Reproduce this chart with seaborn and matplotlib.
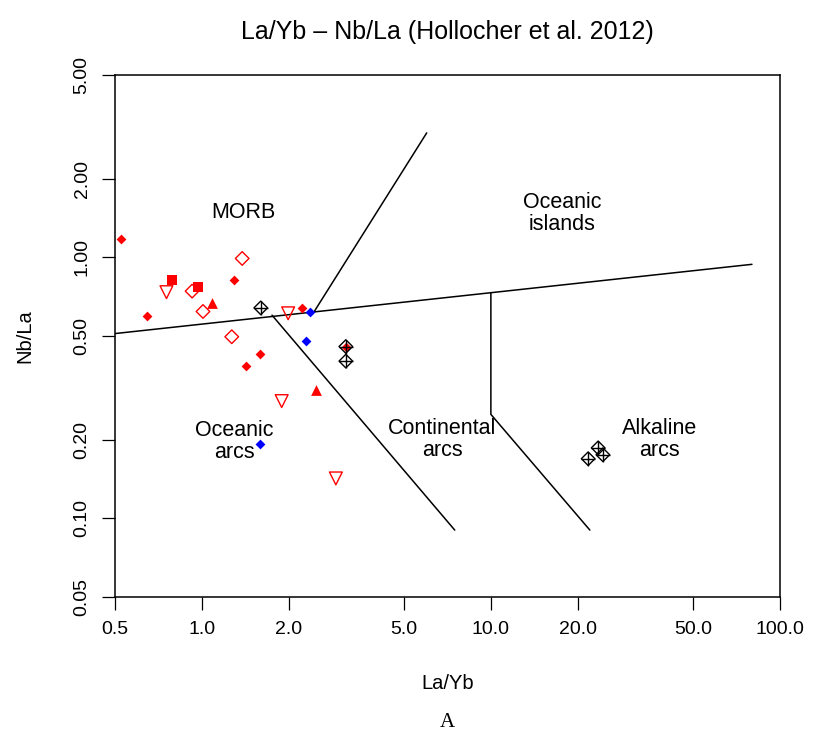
import matplotlib
matplotlib.use("Agg")
import matplotlib.pyplot as plt
from matplotlib.ticker import NullLocator
import pandas as pd
import seaborn as sns

# Sample data (La/Yb, Nb/La)
red_diamond_x = [0.524, 0.649, 1.29, 2.22, 1.59, 1.42, 3.15]
red_diamond_y = [1.18, 0.594, 0.82, 0.637, 0.426, 0.382, 0.455]
red_square_x = [0.787, 0.974]
red_square_y = [0.82, 0.768]
red_triangle_x = [1.085, 2.49]
red_triangle_y = [0.669, 0.309]
red_open_tri_x = [0.755, 1.99, 1.89, 2.91]
red_open_tri_y = [0.735, 0.61, 0.281, 0.142]
red_open_diamond_x = [0.926, 1.01, 1.38, 1.27]
red_open_diamond_y = [0.742, 0.62, 0.99, 0.496]
blue_diamond_x = [2.36, 2.30, 1.59]
blue_diamond_y = [0.615, 0.479, 0.1925]
black_x = [1.6, 3.15, 3.15, 21.7, 23.5, 24.4]
black_y = [0.64, 0.455, 0.40, 0.169, 0.186, 0.175]

# Field boundaries (Hollocher et al. 2012)
boundaries = [
    ([0.5, 80.0], [0.51, 0.94]),
    ([2.45, 6.0], [0.62, 3.0]),
    ([1.75, 7.5], [0.6, 0.09]),
    ([10.0, 10.0, 22.0], [0.73, 0.25, 0.09]),
]

# Field labels
field_labels = ["MORB", "Oceanic\nislands", "Oceanic\narcs", "Continental\narcs", "Alkaline\narcs"]
field_x = [1.39, 17.6, 1.30, 6.78, 38.2]
field_y = [1.49, 1.47, 0.197, 0.2, 0.2]

x_ticks = [0.5, 1, 2, 5, 10, 20, 50, 100]
x_ticklabels = ["0.5", "1.0", "2.0", "5.0", "10.0", "20.0", "50.0", "100.0"]
y_ticks = [0.05, 0.1, 0.2, 0.5, 1, 2, 5]
y_ticklabels = ["0.05", "0.10", "0.20", "0.50", "1.00", "2.00", "5.00"]

sns.set_style("ticks")
plt.rcParams["font.family"] = ["Liberation Sans", "DejaVu Sans"]
plt.rcParams["text.color"] = "black"
plt.rcParams["axes.labelcolor"] = "black"
plt.rcParams["xtick.color"] = "black"
plt.rcParams["ytick.color"] = "black"

fig = plt.figure(figsize=(8.13, 7.36), dpi=100)
ax = fig.add_axes([0.1411, 0.1893, 0.8183, 0.7088])
ax.set_xscale("log")
ax.set_yscale("log")

for bx, by in boundaries:
    ax.plot(bx, by, color="black", lw=1.1, zorder=1)

for lab, lx, ly in zip(field_labels, field_x, field_y):
    ax.text(lx, ly, lab, ha="center", va="center", fontsize=15.5, linespacing=1.1, color="black")

sns.scatterplot(x=red_diamond_x, y=red_diamond_y, marker="D", s=25, color="red",
                edgecolor="red", linewidth=0, ax=ax, zorder=3)
sns.scatterplot(x=red_square_x, y=red_square_y, marker="s", s=48, color="red",
                edgecolor="red", linewidth=0, ax=ax, zorder=3)
sns.scatterplot(x=red_triangle_x, y=red_triangle_y, marker="^", s=60, color="red",
                edgecolor="red", linewidth=0, ax=ax, zorder=3)
sns.scatterplot(x=red_open_tri_x, y=red_open_tri_y, marker="v", s=85, facecolor="none",
                edgecolor="red", linewidth=1.0, ax=ax, zorder=3)
sns.scatterplot(x=red_open_diamond_x, y=red_open_diamond_y, marker="D", s=48, facecolor="none",
                edgecolor="red", linewidth=1.0, ax=ax, zorder=3)
sns.scatterplot(x=blue_diamond_x, y=blue_diamond_y, marker="D", s=25, color="blue",
                edgecolor="blue", linewidth=0, ax=ax, zorder=3)
sns.scatterplot(x=black_x, y=black_y, marker="D", s=48, facecolor="none",
                edgecolor="black", linewidth=1.0, ax=ax, zorder=4)
ax.scatter(black_x, black_y, marker="+", s=90, color="black", linewidth=1.0, zorder=4)

ax.set_xlim(0.5, 100)
ax.set_ylim(0.05, 5)
ax.set_xticks(x_ticks)
ax.set_xticklabels(x_ticklabels)
ax.set_yticks(y_ticks)
ax.set_yticklabels(y_ticklabels, rotation=90, va="center")
ax.xaxis.set_minor_locator(NullLocator())
ax.yaxis.set_minor_locator(NullLocator())
ax.tick_params(length=9.4, width=0.9, color="black", labelcolor="black", labelsize=14, pad=8)

for sp in ax.spines.values():
    sp.set_visible(True)
    sp.set_linewidth(1.1)
    sp.set_color("black")

ax.set_xlabel("La/Yb", fontsize=14.5)
ax.set_ylabel("Nb/La", fontsize=14.5)
ax.xaxis.set_label_coords(0.5, -0.167)
ax.xaxis.label.set_va("center")
ax.yaxis.set_label_coords(-0.135, 0.5)
ax.yaxis.label.set_va("center")

ax.text(0.5, 1.0824, "La/Yb \u2013 Nb/La (Hollocher et al. 2012)", transform=ax.transAxes,
        ha="center", va="center", fontsize=18, color="black")
fig.text(0.5502, 0.019, "A", ha="center", va="center", fontsize=15, family="Liberation Serif",
         color="black")

fig.savefig("out.png", dpi=100)
